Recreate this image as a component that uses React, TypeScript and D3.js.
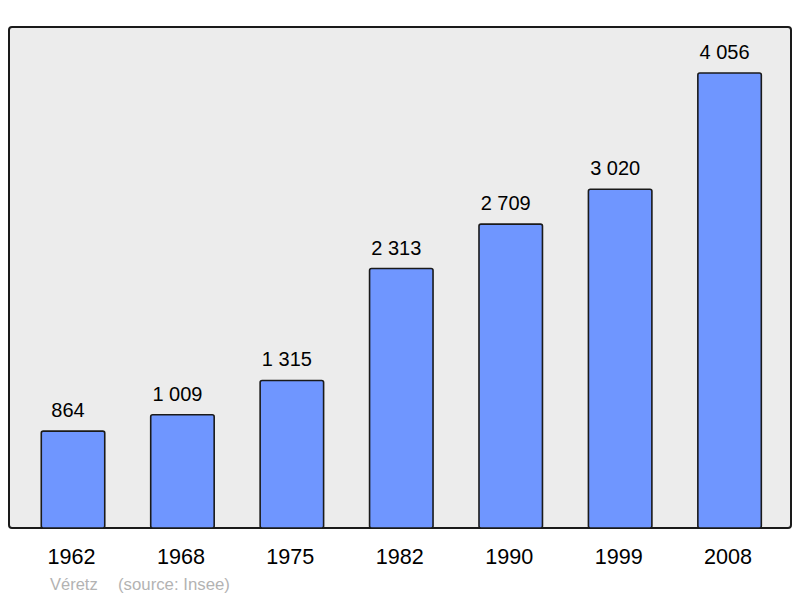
import React from "react";
import * as d3 from "d3";

const years = ["1962", "1968", "1975", "1982", "1990", "1999", "2008"];
const populations = [864, 1009, 1315, 2313, 2709, 3020, 4056];
const commune = "Véretz";
const source = "(source: Insee)";

const W = 800, H = 598;
const frame = { x: 9, y: 27, w: 782, h: 501 };

export default function App() {
  const x = d3.scaleBand<string>().domain(years).range([18.3, 784.3]).paddingInner(0.42).paddingOuter(0.21);
  const y = d3.scaleLinear().domain([0, 4056]).range([frame.y + frame.h, 73]);
  const fmt = (v: number) => d3.format(",")(v).replace(/,/g, " ");
  const font = "'Liberation Sans', Arial, sans-serif";
  return (
    <svg width={W} height={H} style={{ position: "absolute", left: 0, top: 0 }}>
      <rect x={frame.x} y={frame.y} width={frame.w} height={frame.h} rx={3} fill="#ececec" stroke="#1a1a1a" strokeWidth={2} />
      {years.map((yr, i) => {
        const bx = x(yr)!;
        const top = y(populations[i]);
        const cx = bx + x.bandwidth() / 2;
        return (
          <g key={yr}>
            <rect x={bx} y={top} width={x.bandwidth()} height={frame.y + frame.h - top} rx={2} fill="#6f96ff" stroke="#1a1a1a" strokeWidth={1.6} />
            <text x={cx - 5} y={top - 14} textAnchor="middle" fontFamily={font} fontSize={20} fill="#000">{fmt(populations[i])}</text>
            <text x={cx - 1.5} y={564} textAnchor="middle" fontFamily={font} fontSize={21.6} fill="#000">{yr}</text>
          </g>
        );
      })}
      <text x={50} y={589.5} fontFamily={font} fontSize={16.5} fill="#b3b3b3">{commune}</text>
      <text x={118} y={589.5} fontFamily={font} fontSize={16.8} fill="#b3b3b3">{source}</text>
    </svg>
  );
}
